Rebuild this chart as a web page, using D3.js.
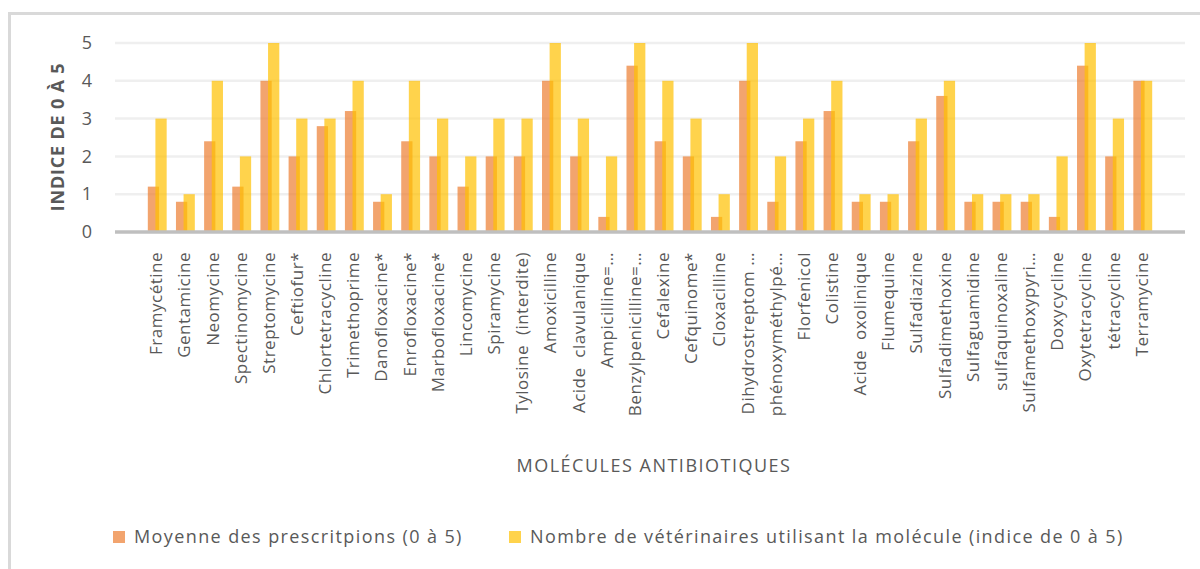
<!DOCTYPE html>
<html>
<head>
<meta charset="utf-8">
<script src="https://cdn.jsdelivr.net/npm/d3@7"></script>
<style>
  body { margin: 0; background: #fff; }
  svg { display: block; font-family: "Open Sans", sans-serif; }
</style>
</head>
<body>
<div id="chart"></div>
<script>
// molecules (x categories)
var molecules = ["Framycétine", "Gentamicine", "Neomycine", "Spectinomycine", "Streptomycine",
  "Ceftiofur*", "Chlortetracycline", "Trimethoprime", "Danofloxacine*", "Enrofloxacine*",
  "Marbofloxacine*", "Lincomycine", "Spiramycine", "Tylosine  (interdite)", "Amoxicilline",
  "Acide  clavulanique", "Ampicilline=…", "Benzylpenicilline=…", "Cefalexine", "Cefquinome*",
  "Cloxacilline", "Dihydrostreptom …", "phénoxyméthylpé…", "Florfenicol", "Colistine",
  "Acide  oxolinique", "Flumequine", "Sulfadiazine", "Sulfadimethoxine", "Sulfaguamidine",
  "sulfaquinoxaline", "Sulfamethoxypyri…", "Doxycycline", "Oxytetracycline", "tétracycline",
  "Terramycine"];

// Moyenne des prescritpions (0 à 5)
var moyenne = [1.2, 0.8, 2.4, 1.2, 4, 2, 2.8, 3.2, 0.8, 2.4,
  2, 1.2, 2, 2, 4, 2, 0.4, 4.4, 2.4, 2,
  0.4, 4, 0.8, 2.4, 3.2, 0.8, 0.8, 2.4, 3.6, 0.8,
  0.8, 0.8, 0.4, 4.4, 2, 4];

// Nombre de vétérinaires utilisant la molécule (indice de 0 à 5)
var nombre = [3, 1, 4, 2, 5, 3, 3, 4, 1, 4,
  3, 2, 3, 3, 5, 3, 2, 5, 4, 3,
  1, 5, 2, 3, 4, 1, 1, 3, 4, 1,
  1, 1, 2, 5, 3, 4];

var yTicks = [0, 1, 2, 3, 4, 5];
var seriesNames = ["Moyenne des prescritpions (0 à 5)",
  "Nombre de vétérinaires utilisant la molécule (indice de 0 à 5)"];
var seriesColors = ["#ED7D31", "#FFC000"];

var WIDTH = 1200, HEIGHT = 569;
var plotLeft = 115, plotRight = 1185, plotTop = 43, plotBottom = 232;
var textColor = "#595959";

var svg = d3.select("#chart").append("svg")
  .attr("width", WIDTH)
  .attr("height", HEIGHT);

// chart frame
svg.append("rect")
  .attr("x", 9.5).attr("y", 13.5)
  .attr("width", WIDTH + 20).attr("height", HEIGHT + 20)
  .attr("fill", "#fff")
  .attr("stroke", "#d9d9d9")
  .attr("stroke-width", 3);

var x = d3.scaleBand()
  .domain(molecules)
  .range([plotLeft, plotRight])
  .paddingInner(0)
  .paddingOuter(1);

var y = d3.scaleLinear()
  .domain([0, 5])
  .range([plotBottom, plotTop]);

// gridlines
svg.append("g")
  .selectAll("line")
  .data(yTicks.slice(1))
  .enter().append("line")
  .attr("x1", plotLeft).attr("x2", plotRight)
  .attr("y1", function(d) { return y(d); })
  .attr("y2", function(d) { return y(d); })
  .attr("stroke", "#efefef")
  .attr("stroke-width", 2.5);

// y axis labels
var yAxis = d3.axisLeft(y).tickValues(yTicks).tickFormat(d3.format("d"))
  .tickSize(0).tickPadding(0);
var gy = svg.append("g")
  .attr("transform", "translate(92,0)")
  .call(yAxis);
gy.select(".domain").remove();
gy.selectAll("text")
  .attr("fill", textColor)
  .style("font-size", "18px")
  .style("font-family", "Open Sans");

var step = x.step();
var barW = step * 0.4;
var shift = step * 0.27;

var series = [moyenne, nombre];
series.forEach(function(vals, si) {
  svg.append("g")
    .selectAll("rect")
    .data(vals)
    .enter().append("rect")
    .attr("x", function(d, i) {
      return x(molecules[i]) + step / 2 - (barW + shift) / 2 + si * shift;
    })
    .attr("y", function(d) { return y(d); })
    .attr("width", barW)
    .attr("height", function(d) { return y(0) - y(d); })
    .attr("fill", seriesColors[si])
    .attr("fill-opacity", 0.7);
});

// x axis
var xAxis = d3.axisBottom(x).tickSize(0);
var gx = svg.append("g")
  .attr("transform", "translate(0," + plotBottom + ")")
  .call(xAxis);
gx.select(".domain").remove();
gx.append("line")
  .attr("x1", plotLeft).attr("x2", plotRight)
  .attr("y1", 0).attr("y2", 0)
  .attr("stroke", "#bfbfbf")
  .attr("stroke-width", 3.5);
gx.selectAll(".tick text")
  .attr("transform", "rotate(-90)")
  .attr("x", -20)
  .attr("y", -1)
  .attr("dy", "0.35em")
  .attr("text-anchor", "end")
  .attr("fill", textColor)
  .style("white-space", "pre")
  .style("font-size", "17px")
  .style("letter-spacing", "0.5px")
  .style("font-family", "Open Sans");

// axis titles
svg.append("text")
  .attr("transform", "translate(64,137) rotate(-90)")
  .attr("text-anchor", "middle")
  .attr("fill", textColor)
  .style("font-size", "18px")
  .style("font-weight", "bold")
  .style("letter-spacing", "0.8px")
  .text("INDICE DE 0 À 5");

svg.append("text")
  .attr("x", 654).attr("y", 472)
  .attr("text-anchor", "middle")
  .attr("fill", textColor)
  .style("font-size", "18px")
  .style("letter-spacing", "1.5px")
  .text("MOLÉCULES ANTIBIOTIQUES");

// legend
var legendX = [113, 509];
var legend = svg.append("g").selectAll("g")
  .data(seriesNames)
  .enter().append("g")
  .attr("transform", function(d, i) { return "translate(" + legendX[i] + ",531)"; });
legend.append("rect")
  .attr("width", 12).attr("height", 12)
  .attr("fill", function(d, i) { return seriesColors[i]; })
  .attr("fill-opacity", 0.7);
legend.append("text")
  .attr("x", 21).attr("y", 12)
  .attr("fill", textColor)
  .style("font-size", "18px")
  .style("letter-spacing", "1.4px")
  .text(function(d) { return d; });
</script>
</body>
</html>
